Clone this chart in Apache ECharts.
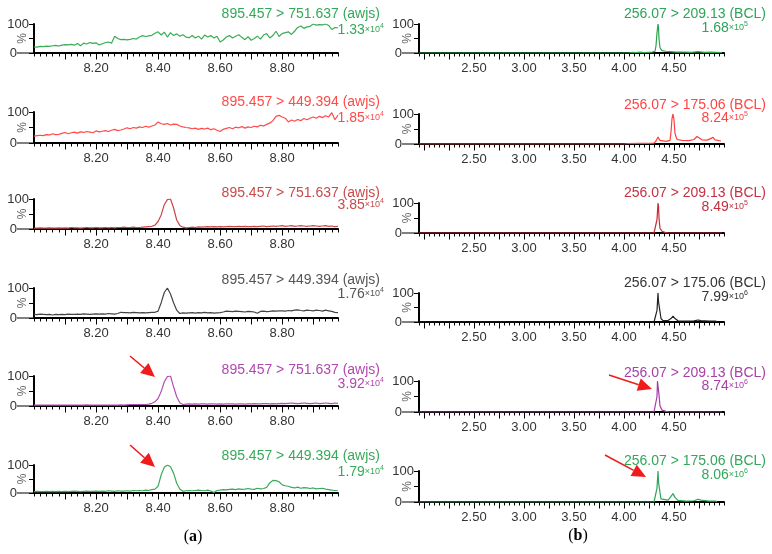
<!DOCTYPE html>
<html>
<head>
<meta charset="utf-8">
<script src="https://cdn.jsdelivr.net/npm/echarts/dist/echarts.min.js"></script>
<style>
html, body { margin: 0; padding: 0; background: #fff; }
#chart { width: 772px; height: 554px; }
</style>
</head>
<body>
<div id="chart"></div>
<script>
// MRM chromatograms: (a) awjs transitions, (b) BCL transitions. Six rows each.
// Values are relative intensity (%).

var leftTimes = [
    8.00, 8.01, 8.02, 8.03, 8.04, 8.05, 8.06, 8.07, 8.08, 8.09,
    8.10, 8.11, 8.12, 8.13, 8.14, 8.15, 8.16, 8.17, 8.18, 8.19,
    8.20, 8.21, 8.22, 8.23, 8.24, 8.25, 8.26, 8.27, 8.28, 8.29,
    8.30, 8.31, 8.32, 8.33, 8.34, 8.35, 8.36, 8.37, 8.38, 8.39,
    8.40, 8.41, 8.42, 8.43, 8.44, 8.45, 8.46, 8.47, 8.48, 8.49,
    8.50, 8.51, 8.52, 8.53, 8.54, 8.55, 8.56, 8.57, 8.58, 8.59,
    8.60, 8.61, 8.62, 8.63, 8.64, 8.65, 8.66, 8.67, 8.68, 8.69,
    8.70, 8.71, 8.72, 8.73, 8.74, 8.75, 8.76, 8.77, 8.78, 8.79,
    8.80, 8.81, 8.82, 8.83, 8.84, 8.85, 8.86, 8.87, 8.88, 8.89,
    8.90, 8.91, 8.92, 8.93, 8.94, 8.95, 8.96, 8.97, 8.98
];

// row 1: 895.457 > 751.637
var awjs751Row1 = [
    21, 20, 23, 22, 24, 23, 25, 26, 24, 27,
    29, 28, 30, 27, 33, 25, 34, 31, 36, 33,
    35, 28, 32, 36, 38, 34, 58, 50, 46, 47,
    45, 47, 50, 48, 55, 60, 57, 59, 61, 68,
    73, 62, 72, 55, 70, 60, 66, 58, 63, 55,
    53, 60, 52, 58, 48, 62, 55, 60, 52, 58,
    38, 45, 55, 60, 52, 58, 63, 54, 46, 56,
    44, 50, 58, 48, 62, 67, 52, 60, 75, 57,
    67, 70, 73, 64, 75, 88, 93, 85, 90, 92,
    100, 96, 98, 97, 100, 95, 81, 88, 87
];
// row 2: 895.457 > 449.394
var awjs449Row2 = [
    22, 24, 25, 24, 27, 26, 30, 27, 28, 31,
    34, 30, 33, 35, 32, 36, 34, 37, 35, 33,
    39, 36, 38, 40, 37, 41, 44, 40, 42, 45,
    49, 46, 50, 48, 52, 50, 54, 51, 55, 58,
    68, 62, 60, 63, 58, 61, 60, 55, 52, 50,
    49, 46, 48, 44, 47, 45, 48, 43, 46, 41,
    37, 44, 47, 50, 46, 51, 49, 53, 48, 52,
    50, 54, 52, 57, 55, 60, 64, 72, 86, 89,
    84, 80, 68, 74, 70, 76, 72, 79, 75, 80,
    84, 80, 86, 82, 88, 84, 98, 75, 90
];
// row 3: 895.457 > 751.637
var awjs751Row3 = [
    3, 3, 4, 3, 3, 4, 3, 3, 4, 3,
    4, 3, 5, 4, 4, 3, 4, 5, 4, 4,
    5, 4, 4, 5, 4, 5, 4, 5, 5, 6,
    5, 5, 6, 5, 5, 6, 7, 8, 9, 13,
    25, 47, 81, 98, 100, 70, 30, 12, 6, 4,
    5, 6, 5, 7, 6, 7, 8, 7, 8, 7,
    8, 7, 8, 9, 8, 8, 9, 8, 9, 8,
    8, 9, 8, 9, 10, 8, 9, 10, 9, 10,
    11, 9, 10, 11, 9, 10, 11, 10, 9, 10,
    11, 10, 9, 10, 11, 9, 10, 8, 9
];
// row 4: 895.457 > 449.394
var awjs449Row4 = [
    12, 11, 13, 12, 11, 12, 10, 12, 11, 12,
    11, 13, 12, 12, 13, 12, 14, 13, 12, 13,
    14, 13, 14, 13, 15, 14, 13, 15, 19, 18,
    18, 17, 19, 18, 17, 18, 17, 18, 19, 19,
    23, 51, 85, 100, 80, 51, 26, 15, 17, 16,
    17, 18, 16, 18, 17, 19, 17, 18, 16, 17,
    18, 20, 23, 22, 21, 23, 22, 21, 20, 22,
    21, 20, 16, 22, 23, 21, 22, 24, 23, 24,
    24, 23, 25, 24, 26, 27, 25, 24, 26, 25,
    24, 26, 25, 23, 26, 24, 22, 19, 18
];
// row 5: 895.457 > 751.637
var awjs751Row5 = [
    3, 3, 3, 3, 3, 3, 3, 3, 3, 3,
    3, 3, 3, 3, 3, 3, 3, 4, 3, 3,
    3, 3, 3, 3, 3, 3, 3, 3, 4, 3,
    4, 5, 5, 5, 5, 5, 5, 6, 9, 14,
    25, 48, 81, 98, 100, 64, 31, 11, 5, 6,
    7, 6, 7, 6, 7, 7, 6, 7, 7, 6,
    7, 6, 7, 7, 7, 6, 7, 7, 6, 7,
    7, 8, 7, 7, 8, 8, 7, 8, 7, 8,
    9, 8, 9, 10, 9, 8, 9, 10, 9, 8,
    9, 10, 8, 9, 10, 9, 8, 10, 9
];
// row 6: 895.457 > 449.394
var awjs449Row6 = [
    5, 6, 5, 5, 6, 5, 6, 5, 6, 5,
    6, 5, 6, 7, 6, 5, 6, 7, 6, 6,
    7, 6, 7, 6, 8, 7, 6, 8, 7, 7,
    8, 7, 9, 8, 9, 8, 10, 9, 12, 14,
    24, 65, 92, 100, 94, 71, 35, 14, 6, 8,
    9, 8, 9, 10, 9, 8, 10, 7, 2, 9,
    10, 12, 11, 13, 14, 12, 15, 13, 14, 16,
    14, 13, 17, 15, 16, 20, 36, 45, 44, 40,
    29, 26, 24, 20, 18, 21, 17, 19, 18, 16,
    18, 15, 16, 17, 14, 12, 10, 9, 8
];

// (b) BCL traces: flat baseline, so only the points where the trace changes
var bcl209Row1Times = [1.95, 4.05, 4.08, 4.12, 4.16, 4.20, 4.24, 4.28, 4.31, 4.32, 4.33, 4.34, 4.345, 4.35, 4.36, 4.38, 4.42, 4.46, 4.52, 4.60, 4.68, 4.74, 4.76, 4.80, 4.86, 4.92, 4.98];
var bcl209Row1 = [0, 0, 2, 1, 3, 1, 2, 3, 6, 25, 70, 100, 88, 50, 18, 8, 6, 5, 3, 3, 2, 5, 4, 2, 3, 2, 1];

var bcl175Row2Times = [1.95, 4.00, 4.02, 4.04, 4.06, 4.15, 4.25, 4.30, 4.32, 4.34, 4.36, 4.38, 4.42, 4.46, 4.47, 4.48, 4.49, 4.50, 4.51, 4.53, 4.58, 4.65, 4.70, 4.73, 4.75, 4.78, 4.83, 4.86, 4.89, 4.91, 4.97];
var bcl175Row2 = [0, 0, 4, 1, 2, 2, 2, 3, 10, 23, 12, 10, 9, 12, 40, 85, 100, 80, 35, 15, 12, 11, 15, 25, 22, 14, 13, 17, 22, 14, 10];

var bcl209Row3Times = [1.95, 4.30, 4.32, 4.33, 4.34, 4.345, 4.35, 4.36, 4.38, 4.41, 4.44, 4.98];
var bcl209Row3 = [0, 0, 5, 45, 100, 90, 50, 15, 6, 2, 0, 0];

var bcl175Row4Times = [1.95, 4.30, 4.32, 4.33, 4.34, 4.345, 4.35, 4.36, 4.37, 4.39, 4.44, 4.47, 4.49, 4.51, 4.54, 4.62, 4.70, 4.74, 4.77, 4.85, 4.92, 4.93];
var bcl175Row4 = [0, 0, 4, 40, 100, 70, 72, 35, 12, 5, 5, 12, 20, 12, 4, 3, 4, 7, 5, 3, 3, 0];

var bcl209Row5Times = [1.95, 4.30, 4.32, 4.33, 4.335, 4.345, 4.35, 4.36, 4.38, 4.42, 4.45, 4.98];
var bcl209Row5 = [0, 0, 6, 50, 100, 95, 55, 20, 6, 2, 0, 0];

var bcl175Row6Times = [1.95, 4.30, 4.32, 4.33, 4.34, 4.345, 4.35, 4.36, 4.37, 4.39, 4.44, 4.47, 4.49, 4.51, 4.54, 4.62, 4.70, 4.74, 4.77, 4.85, 4.92, 4.93];
var bcl175Row6 = [0, 0, 4, 45, 100, 65, 62, 30, 10, 5, 6, 18, 27, 15, 5, 3, 4, 9, 6, 3, 3, 0];

// labels
var leftTickLabels = [8.20, 8.40, 8.60, 8.80];
var rightTickLabels = [2.50, 3.00, 3.50, 4.00, 4.50];
var leftTitles = [
    '895.457 > 751.637 (awjs)', '895.457 > 449.394 (awjs)', '895.457 > 751.637 (awjs)',
    '895.457 > 449.394 (awjs)', '895.457 > 751.637 (awjs)', '895.457 > 449.394 (awjs)'
];
var leftMantissa = ['1.33', '1.85', '3.85', '1.76', '3.92', '1.79'];
var leftExponent = ['4', '4', '4', '4', '4', '4'];
var rightTitles = [
    '256.07 > 209.13 (BCL)', '256.07 > 175.06 (BCL)', '256.07 > 209.13 (BCL)',
    '256.07 > 175.06 (BCL)', '256.07 > 209.13 (BCL)', '256.07 > 175.06 (BCL)'
];
var rightMantissa = ['1.68', '8.24', '8.49', '7.99', '8.74', '8.06'];
var rightExponent = ['5', '5', '5', '6', '6', '6'];

var leftColors = ['#3aad58', '#ff4a4a', '#cc4646', '#444444', '#b64cb6', '#38aa5a'];
var rightColors = ['#2ca44c', '#ff3f3f', '#c42c3a', '#222222', '#a63aa6', '#2ea55a'];
var leftTextColors = ['#34a85a', '#ff4a4a', '#c84a4a', '#555555', '#b048b0', '#38aa5a'];
var rightTextColors = ['#2ca45a', '#ff4444', '#c43040', '#333333', '#a840a8', '#30a85a'];

// axis ranges: [min, max, minor step, major from, major to, major step]
var leftRange = [8.00, 8.98, 0.02, 8.1, 8.9, 0.1];
var rightRange = [1.95, 5.00, 0.05, 2.0, 4.75, 0.25];

// layout (pixels)
var LEFT_X = 34, LEFT_W = 304, RIGHT_X = 419, RIGHT_W = 305;
var leftTop = [24, 112, 199, 288, 376, 465];
var leftH = [29, 31, 30, 30, 30, 28];
var rightTop = [24, 114, 203, 293, 381, 471];
var rightH = [29, 30, 30, 29, 31, 31];
var leftTitleY = [14, 102, 193, 280, 370, 456];
var leftValueY = [30, 118, 205, 294, 384, 472];
var rightTitleY = [14, 105, 193, 283, 373, 461];
var rightValueY = [28, 118, 207, 297, 386, 475];

var FONT = '"Liberation Sans", Arial, sans-serif';

function zip(xs, ys) {
    var out = [];
    for (var i = 0; i < xs.length; i++) out.push([xs[i], ys[i]]);
    return out;
}

var leftSeriesData = [awjs751Row1, awjs449Row2, awjs751Row3, awjs449Row4, awjs751Row5, awjs449Row6];
var rightSeriesData = [
    zip(bcl209Row1Times, bcl209Row1), zip(bcl175Row2Times, bcl175Row2),
    zip(bcl209Row3Times, bcl209Row3), zip(bcl175Row4Times, bcl175Row4),
    zip(bcl209Row5Times, bcl209Row5), zip(bcl175Row6Times, bcl175Row6)
];

var grids = [], xAxes = [], yAxes = [], series = [], graphics = [];

function addPanel(left, top, width, height, range, labels, data, color) {
    var g = grids.length;
    grids.push({ left: left, top: top, width: width, height: height, containLabel: false, outerBoundsMode: 'none' });
    xAxes.push({
        gridIndex: g, type: 'value', min: range[0], max: range[1], interval: range[2], position: 'bottom',
        axisLine: { show: true, onZero: false, lineStyle: { color: '#000', width: 2 } },
        axisTick: { show: true, length: 3.5, lineStyle: { color: '#000', width: 1 } },
        axisLabel: {
            customValues: labels, margin: 9, fontSize: 13, color: '#333', fontFamily: FONT,
            formatter: function (v) { return v.toFixed(2); }
        },
        splitLine: { show: false }
    });
    yAxes.push({
        gridIndex: g, type: 'value', min: 0, max: 100, interval: 50, position: 'left',
        axisLine: { show: true, onZero: false, lineStyle: { color: '#000', width: 2 } },
        axisTick: { show: true, length: 5, lineStyle: { color: '#000', width: 1 } },
        axisLabel: {
            margin: 0, fontSize: 13, color: '#333', fontFamily: FONT,
            formatter: function (v) {
                if (v === 0) return '{n|0}{t| }';
                if (v === 100) return '{n|100}{g| }';
                return '';
            },
            rich: {
                n: { fontSize: 13, color: '#333', fontFamily: FONT },
                t: { width: 17, height: 1, backgroundColor: '#000', fontSize: 1, lineHeight: 1 },
                g: { width: 5, fontSize: 1 }
            }
        },
        splitLine: { show: false },
        name: '%', nameLocation: 'middle', nameRotate: 90, nameGap: 5, nameMoveOverlap: false,
        nameTextStyle: { fontSize: 12, color: '#666', fontFamily: FONT }
    });
    series.push({
        type: 'line', xAxisIndex: xAxes.length - 1, yAxisIndex: yAxes.length - 1, data: data,
        showSymbol: false, symbol: 'none', z: 5,
        lineStyle: { color: color, width: 1.2 }, itemStyle: { color: color }
    });

    // longer ticks: helper grid whose axis spans exactly the major-tick range
    var scale = width / (range[1] - range[0]);
    grids.push({
        left: left + (range[3] - range[0]) * scale, top: top,
        width: (range[4] - range[3]) * scale, height: height,
        containLabel: false, outerBoundsMode: 'none'
    });
    xAxes.push({
        gridIndex: g + 1, type: 'value', min: range[3], max: range[4], interval: range[5], position: 'bottom',
        axisLine: { show: false },
        axisTick: { show: true, length: 6.5, lineStyle: { color: '#000', width: 1 } },
        axisLabel: { show: false },
        splitLine: { show: false }
    });
    yAxes.push({ gridIndex: g + 1, type: 'value', min: 0, max: 100, show: false });
}

function addLabel(title, mant, exp, color, titleX, titleY, valueX, valueY) {
    graphics.push({
        type: 'text', silent: true,
        style: {
            text: title, x: titleX, y: titleY, align: 'right', verticalAlign: 'middle',
            textAlign: 'right', textVerticalAlign: 'middle',
            fontSize: 14, fontFamily: FONT, fill: color
        }
    });
    graphics.push({
        type: 'text', silent: true,
        style: {
            text: '{m|' + mant + '}{x|×10}{e|' + exp + '}', x: valueX, y: valueY,
            align: 'right', verticalAlign: 'middle', textAlign: 'right', textVerticalAlign: 'middle',
            fontFamily: FONT, fill: color,
            rich: {
                m: { fontSize: 14, fontFamily: FONT, fill: color },
                x: { fontSize: 9, fontFamily: FONT, fill: color },
                e: { fontSize: 7, fontFamily: FONT, fill: color, verticalAlign: 'top' }
            }
        }
    });
}

function addArrow(x1, y1, x2, y2) {
    var dx = x2 - x1, dy = y2 - y1;
    var len = Math.sqrt(dx * dx + dy * dy);
    var ux = dx / len, uy = dy / len;
    var hl = 14, hw = 6.5;
    var bx = x2 - ux * hl, by = y2 - uy * hl;
    graphics.push({
        type: 'line', silent: true,
        shape: { x1: x1, y1: y1, x2: bx, y2: by },
        style: { stroke: '#ee1c1c', lineWidth: 1.6 }
    });
    graphics.push({
        type: 'polygon', silent: true,
        shape: { points: [[x2, y2], [bx - uy * hw, by + ux * hw], [bx + uy * hw, by - ux * hw]] },
        style: { fill: '#ee1c1c' }
    });
}

for (var i = 0; i < 6; i++) {
    addPanel(LEFT_X, leftTop[i], LEFT_W, leftH[i], leftRange, leftTickLabels,
        zip(leftTimes, leftSeriesData[i]), leftColors[i]);
    addPanel(RIGHT_X, rightTop[i], RIGHT_W, rightH[i], rightRange, rightTickLabels,
        rightSeriesData[i], rightColors[i]);
    addLabel(leftTitles[i], leftMantissa[i], leftExponent[i], leftTextColors[i], 380, leftTitleY[i], 384, leftValueY[i]);
    addLabel(rightTitles[i], rightMantissa[i], rightExponent[i], rightTextColors[i], 766, rightTitleY[i], 748, rightValueY[i]);
}

addArrow(130, 356, 155, 377);
addArrow(130, 445, 155, 467);
addArrow(609, 375, 652, 389);
addArrow(605, 455, 646, 477);

function caption(letter, x, y) {
    graphics.push({
        type: 'text', silent: true,
        style: {
            text: '{p|(}{b|' + letter + '}{p|)}', x: x, y: y, align: 'center', verticalAlign: 'middle',
            textAlign: 'center', textVerticalAlign: 'middle',
            rich: {
                p: { fontSize: 16, fontFamily: '"Liberation Serif", serif', fill: '#000' },
                b: { fontSize: 16, fontFamily: '"Liberation Serif", serif', fontWeight: 'bold', fill: '#000' }
            }
        }
    });
}
caption('a', 193, 537);
caption('b', 578, 536);

var chart = echarts.init(document.getElementById('chart'), null, { renderer: 'canvas' });
chart.setOption({
    animation: false,
    backgroundColor: '#ffffff',
    grid: grids,
    xAxis: xAxes,
    yAxis: yAxes,
    series: series,
    graphic: { elements: graphics }
});
</script>
</body>
</html>
